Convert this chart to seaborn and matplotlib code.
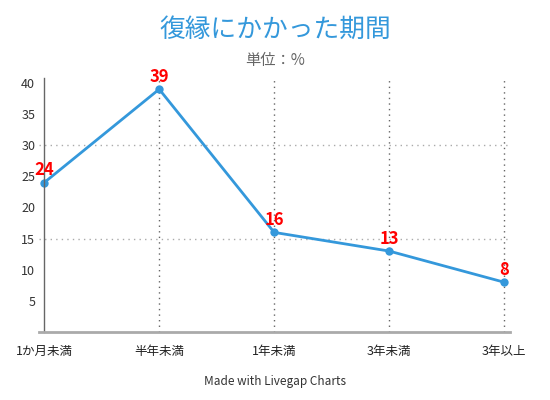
import matplotlib
matplotlib.use('Agg')
import matplotlib.pyplot as plt
import pandas as pd
import seaborn as sns

periods = ['1か月未満', '半年未満', '1年未満', '3年未満', '3年以上']
percent = [24, 39, 16, 13, 8]
yticks = [5, 10, 15, 20, 25, 30, 35, 40]

sns.set_style('white')
plt.rcParams['font.family'] = ['Noto Sans CJK JP', 'DejaVu Sans']

df = pd.DataFrame({'period': periods, 'percent': percent})
blue = '#3498db'

fig = plt.figure(figsize=(5.5, 4), dpi=100)
ax = fig.add_axes([0.071, 0.17, 0.856, 0.635])
sns.lineplot(data=df, x='period', y='percent', sort=False, color=blue, linewidth=2,
             marker='o', markersize=6, markeredgewidth=0, ax=ax)

for i, v in enumerate(percent):
    ax.annotate(str(v), (i, v), xytext=(0, 2.5), textcoords='offset points',
                ha='center', va='bottom', color='#ff0000', fontsize=12, fontweight='bold')

ax.set_xlim(-0.045, 4.05)
ax.set_ylim(0, 40.8)
ax.set_yticks(yticks)
ax.set_xticks(range(len(periods)))
ax.set_xticklabels(periods)
ax.set_xlabel('')
ax.set_ylabel('')
ax.tick_params(axis='both', labelsize=9, colors='#333333', length=3, width=0.8)
ax.tick_params(axis='y', colors='#999999', labelcolor='#333333')
ax.tick_params(axis='x', colors='#666666', labelcolor='#222222', length=5, pad=4)

for y in [15, 30]:
    ax.axhline(y, color='#aaaaaa', linestyle=(0, (1, 3)), linewidth=1, zorder=0)
for i in range(1, len(periods)):
    ax.axvline(i, color='#666666', linestyle=(0, (1, 3)), linewidth=1, zorder=0)

ax.spines['top'].set_visible(False)
ax.spines['right'].set_visible(False)
ax.spines['left'].set_position(('data', 0))
ax.spines['left'].set_color('#666666')
ax.spines['left'].set_linewidth(1)
ax.spines['bottom'].set_color('#aaaaaa')
ax.spines['bottom'].set_linewidth(2)

fig.text(0.5, 0.925, '復縁にかかった期間', ha='center', va='center', color=blue, fontsize=18.5)
fig.text(0.5, 0.85, '単位：%', ha='center', va='center', color='#666666', fontsize=11)
fig.text(0.5, 0.047, 'Made with Livegap Charts', ha='center', va='center', color='#333333', fontsize=8.5)

fig.savefig('out.png', dpi=100)
